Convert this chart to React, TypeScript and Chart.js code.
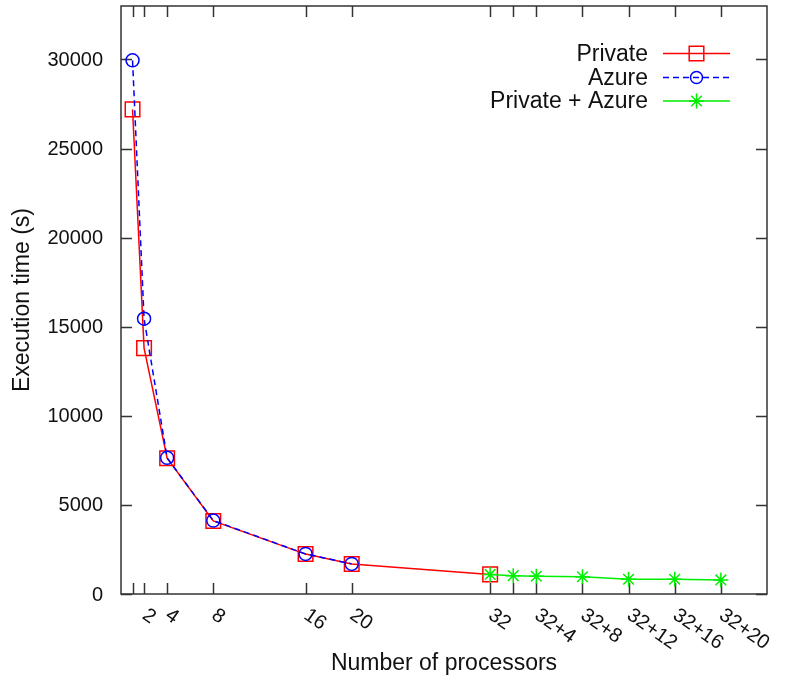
import React, { useEffect, useRef } from 'react';
import { Chart, registerables } from 'chart.js';

Chart.register(...registerables);

const FONT = '"Liberation Sans", Arial, Helvetica, sans-serif';
const TITLE_SIZE = 23;
const TICK_SIZE = 20;

// Tick positions (number of processors) and their labels
const X_TICKS = [1, 2, 4, 8, 16, 20, 32, 34, 36, 40, 44, 48, 52];
const X_TICK_LABELS = ['', '2', '4', '8', '16', '20', '32', '', '32+4', '32+8', '32+12', '32+16', '32+20'];
const Y_TICKS = [0, 5000, 10000, 15000, 20000, 25000, 30000];

// Series data
const PRIVATE_X = [1, 2, 4, 8, 16, 20, 32];
const PRIVATE_Y = [27200, 13800, 7620, 4100, 2240, 1680, 1100];

const AZURE_X = [1, 2, 4, 8, 16, 20];
const AZURE_Y = [29950, 15450, 7640, 4120, 2250, 1690];

const HYBRID_X = [32, 34, 36, 40, 44, 48, 52];
const HYBRID_Y = [1100, 1030, 995, 970, 830, 830, 790];

const SERIES_NAMES = ['Private', 'Azure', 'Private + Azure'];
const X_TITLE = 'Number of processors';
const Y_TITLE = 'Execution time (s)';

const RED = '#ff0000';
const BLUE = '#0000ff';
const GREEN = '#00ee00';

function toPoints(xs: number[], ys: number[]) {
  return xs.map((x, i) => ({ x, y: ys[i] }));
}

function drawMarker(ctx: CanvasRenderingContext2D, kind: string, x: number, y: number, color: string) {
  ctx.save();
  ctx.strokeStyle = color;
  ctx.lineWidth = 1.5;
  ctx.setLineDash([]);
  ctx.beginPath();
  if (kind === 'rect') {
    const s = 7.3;
    ctx.rect(x - s, y - s, 2 * s, 2 * s);
  } else if (kind === 'circle') {
    ctx.arc(x, y, 6, 0, Math.PI * 2);
  } else {
    const r = 7.5;
    const d = r * Math.SQRT1_2;
    ctx.moveTo(x - r, y); ctx.lineTo(x + r, y);
    ctx.moveTo(x, y - r); ctx.lineTo(x, y + r);
    ctx.moveTo(x - d, y - d); ctx.lineTo(x + d, y + d);
    ctx.moveTo(x - d, y + d); ctx.lineTo(x + d, y - d);
  }
  ctx.stroke();
  ctx.restore();
}

const gnuplotPlugin = {
  id: 'gnuplotFrame',
  beforeDatasetsDraw(chart: any) {
    const { ctx, chartArea: a, scales } = chart;
    const xs = scales.x;
    const ys = scales.y;
    const L = 11;
    ctx.save();
    ctx.strokeStyle = '#333';
    ctx.lineWidth = 1.5;
    ctx.strokeRect(a.left, a.top, a.right - a.left, a.bottom - a.top);
    ctx.beginPath();
    for (const v of X_TICKS) {
      const px = Math.round(xs.getPixelForValue(v)) + 0.5;
      ctx.moveTo(px, a.bottom);
      ctx.lineTo(px, a.bottom - L);
      ctx.moveTo(px, a.top);
      ctx.lineTo(px, a.top + L);
    }
    for (const v of Y_TICKS) {
      const py = Math.round(ys.getPixelForValue(v)) + 0.5;
      ctx.moveTo(a.left, py);
      ctx.lineTo(a.left + L, py);
      ctx.moveTo(a.right, py);
      ctx.lineTo(a.right - L, py);
    }
    ctx.stroke();
    ctx.restore();
  },
  afterDraw(chart: any) {
    const { ctx, chartArea: a, scales } = chart;
    const xs = scales.x;
    const ys = scales.y;
    ctx.save();
    ctx.fillStyle = '#111';
    ctx.font = `${TICK_SIZE}px ${FONT}`;
    // y tick labels
    ctx.textAlign = 'right';
    ctx.textBaseline = 'middle';
    for (const v of Y_TICKS) {
      ctx.fillText(String(v), a.left - 18, ys.getPixelForValue(v) + 1);
    }
    // rotated x tick labels
    X_TICKS.forEach((v, i) => {
      const label = X_TICK_LABELS[i];
      if (!label) return;
      const px = xs.getPixelForValue(v);
      ctx.save();
      ctx.translate(px + 6, a.bottom + 11);
      ctx.rotate((35 * Math.PI) / 180);
      ctx.textAlign = 'left';
      ctx.textBaseline = 'top';
      ctx.fillText(label, 0, 0);
      ctx.restore();
    });
    // legend
    ctx.font = `${TITLE_SIZE}px ${FONT}`;
    const kinds = ['rect', 'circle', 'star'];
    const colors = [RED, BLUE, GREEN];
    const dashes = [[], [6, 4], []];
    const rowY = [53.5, 77.5, 101];
    const textRight = a.left + (648 - 121);
    const lineStart = textRight + 15;
    const lineEnd = textRight + 82;
    const markX = (lineStart + lineEnd) / 2;
    SERIES_NAMES.forEach((name, i) => {
      const y = rowY[i];
      ctx.fillStyle = '#111';
      ctx.textAlign = 'right';
      ctx.textBaseline = 'middle';
      ctx.fillText(name, textRight, y + 1);
      ctx.save();
      ctx.strokeStyle = colors[i];
      ctx.lineWidth = 1.5;
      ctx.setLineDash(dashes[i]);
      ctx.beginPath();
      ctx.moveTo(lineStart, y);
      ctx.lineTo(lineEnd, y);
      ctx.stroke();
      ctx.restore();
      drawMarker(ctx, kinds[i], markX, y, colors[i]);
    });
    ctx.restore();
  },
};

export default function App() {
  const canvasRef = useRef<HTMLCanvasElement | null>(null);

  useEffect(() => {
    const canvas = canvasRef.current;
    if (!canvas) return;
    const chart = new Chart(canvas, {
      type: 'line',
      data: {
        datasets: [
          {
            label: SERIES_NAMES[0],
            data: toPoints(PRIVATE_X, PRIVATE_Y),
            borderColor: RED,
            backgroundColor: 'transparent',
            borderWidth: 1.5,
            pointStyle: 'rect',
            pointRadius: 10.3,
            pointBorderWidth: 1.5,
            pointBorderColor: RED,
            pointBackgroundColor: 'transparent',
            tension: 0,
            order: 3,
          },
          {
            label: SERIES_NAMES[1],
            data: toPoints(AZURE_X, AZURE_Y),
            borderColor: BLUE,
            backgroundColor: 'transparent',
            borderWidth: 1.5,
            borderDash: [6, 4],
            pointStyle: 'circle',
            pointRadius: 6.5,
            pointBorderWidth: 1.5,
            pointBorderColor: BLUE,
            pointBackgroundColor: 'transparent',
            tension: 0,
            order: 2,
          },
          {
            label: SERIES_NAMES[2],
            data: toPoints(HYBRID_X, HYBRID_Y),
            borderColor: GREEN,
            backgroundColor: 'transparent',
            borderWidth: 1.5,
            pointStyle: 'star',
            pointRadius: 7.5,
            pointBorderWidth: 1.5,
            pointBorderColor: GREEN,
            pointBackgroundColor: 'transparent',
            tension: 0,
            order: 1,
          },
        ],
      },
      options: {
        responsive: false,
        animation: false,
        layout: { autoPadding: false, padding: { top: 6, right: 18, left: 0, bottom: 0 } },
        plugins: {
          legend: { display: false },
          tooltip: { enabled: false },
        },
        scales: {
          x: {
            type: 'linear',
            min: 0,
            max: 56,
            grid: { display: false },
            border: { display: false },
            ticks: { display: false },
            afterBuildTicks: (scale: any) => {
              scale.ticks = X_TICKS.map((v) => ({ value: v }));
            },
            afterFit: (scale: any) => {
              scale.height = 87;
            },
            title: {
              display: true,
              text: X_TITLE,
              color: '#111',
              font: { family: FONT, size: TITLE_SIZE },
              padding: { top: 0, bottom: 4 },
            },
          },
          y: {
            type: 'linear',
            min: 0,
            max: 33000,
            grid: { display: false, drawTicks: false },
            border: { display: false },
            afterBuildTicks: (scale: any) => {
              scale.ticks = Y_TICKS.map((v) => ({ value: v }));
            },
            ticks: { display: false },
            afterFit: (scale: any) => {
              scale.width = 121;
            },
            title: {
              display: true,
              text: Y_TITLE,
              color: '#111',
              font: { family: FONT, size: TITLE_SIZE },
              padding: { top: 9, bottom: 0 },
            },
          },
        },
      },
      plugins: [gnuplotPlugin],
    });
    return () => chart.destroy();
  }, []);

  return (
    <div style={{ position: 'absolute', left: 0, top: 0, width: 785, height: 681, background: '#fff' }}>
      <canvas ref={canvasRef} width={785} height={681} />
    </div>
  );
}
